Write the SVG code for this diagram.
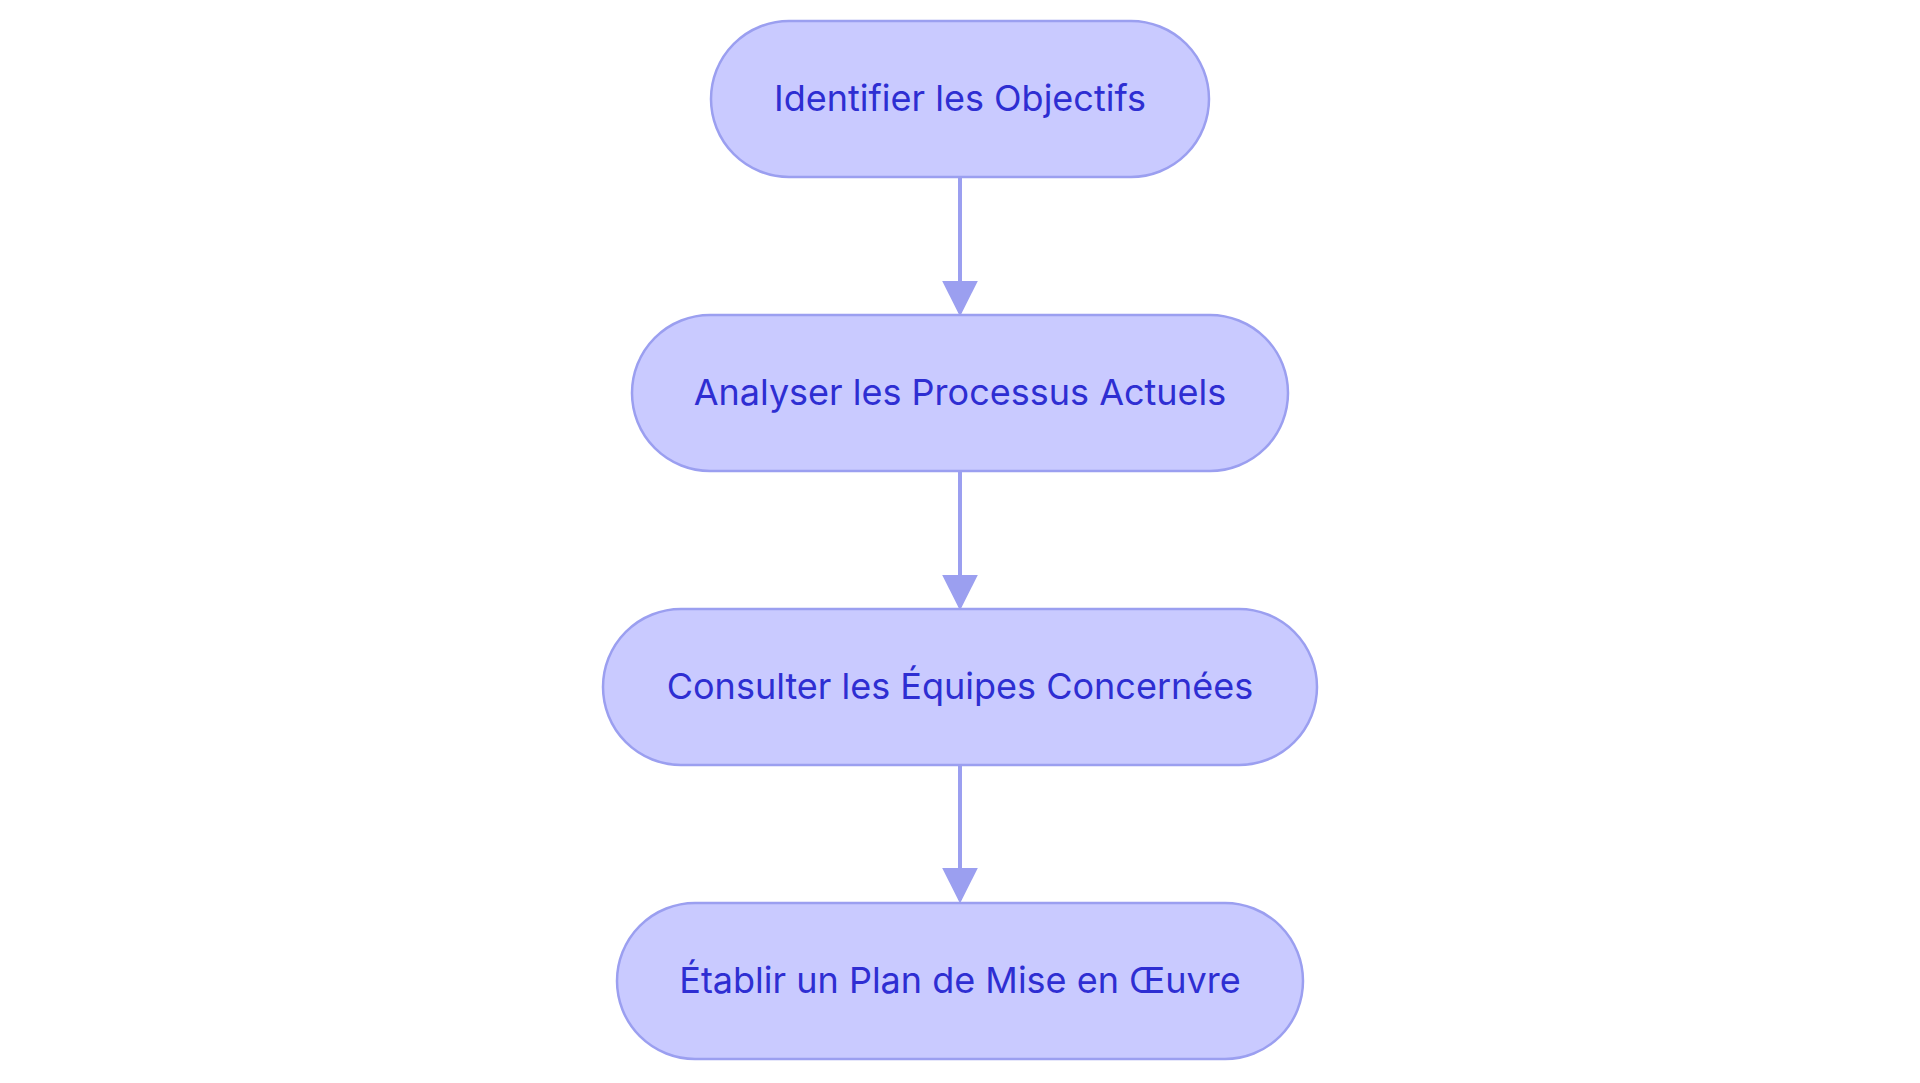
<svg xmlns="http://www.w3.org/2000/svg" width="1920" height="1083" viewBox="0 0 1920 1083">
<style>
.n{fill:#c9caff;stroke:#9b9ff0;stroke-width:2.5}
.t{font-family:Inter,"Noto Sans",sans-serif;font-size:36px;fill:#2e2ed2;text-anchor:middle;dominant-baseline:central}
.e{stroke:#9b9ff0;stroke-width:4;fill:none}
</style>
<defs><marker id="a" viewBox="0 0 10 10" refX="10" refY="5" markerWidth="8.5" markerHeight="8.5" markerUnits="userSpaceOnUse" orient="auto"><path d="M0,0L10,5L0,10z" fill="#9b9ff0"/></marker>
<marker id="b" viewBox="0 0 10 10" refX="9" refY="5" markerWidth="9" markerHeight="9" orient="auto"><path d="M0,0L10,5L0,10z" fill="#9b9ff0"/></marker></defs>
<rect width="1920" height="1083" fill="#fff"/>
<g id="connectors">
<path class="e" d="M960,178V313" marker-end="url(#b)"/>
<path class="e" d="M960,470V607" marker-end="url(#b)"/>
<path class="e" d="M960,764V900" marker-end="url(#b)"/>
</g>
<g id="n1"><rect class="n" x="711" y="21" width="498" height="156" rx="78"/><text class="t" x="960" y="98">Identifier les Objectifs</text></g>
<g id="n2"><rect class="n" x="632" y="315" width="656" height="156" rx="78"/><text class="t" x="960" y="392">Analyser les Processus Actuels</text></g>
<g id="n3"><rect class="n" x="603" y="609" width="714" height="156" rx="78"/><text class="t" x="960" y="686">Consulter les Équipes Concernées</text></g>
<g id="n4"><rect class="n" x="617" y="903" width="686" height="156" rx="78"/><text class="t" x="960" y="980">Établir un Plan de Mise en Œuvre</text></g>
</svg>
